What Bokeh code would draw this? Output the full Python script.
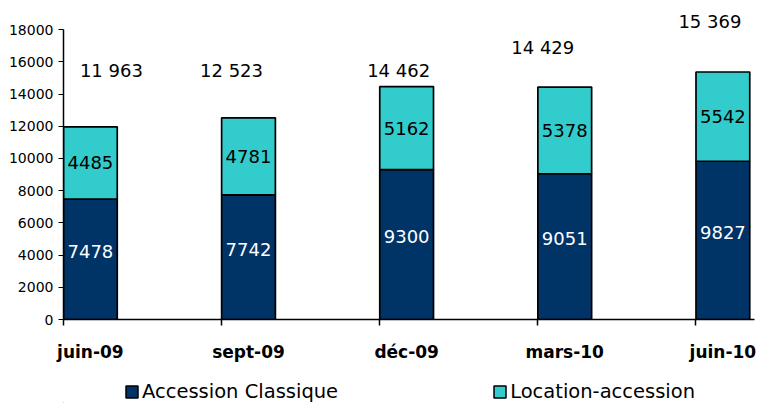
from bokeh.plotting import figure
from bokeh.layouts import column
from bokeh.models import (ColumnDataSource, FixedTicker, LinearAxis, Range1d,
                          Legend, LegendItem)
from bokeh.core.properties import value
from bokeh.embed import file_html
from bokeh.resources import INLINE

# --- data ---------------------------------------------------------------
periods = ["juin-09", "sept-09", "déc-09", "mars-10", "juin-10"]
accession_classique = [7478, 7742, 9300, 9051, 9827]
location_accession = [4485, 4781, 5162, 5378, 5542]
y_ticks = [0, 2000, 4000, 6000, 8000, 10000, 12000, 14000, 16000, 18000]

# placement of the total labels above each column (pixel shift, data height)
total_label_dx = [21, -17, -8, -22, -13]
total_label_y = [15456, 15456, 15456, 16884, 18498]

DARK = "#003366"
CYAN = "#33CCCC"
FONT = "DejaVu Sans"
BAR_W = 0.34
SERIES = ["Accession Classique", "Location-accession"]

xs = list(range(len(periods)))
totals = [a + b for a, b in zip(accession_classique, location_accession)]

src = ColumnDataSource(dict(
    x=xs,
    classique=accession_classique,
    location=location_accession,
    top=totals,
    mid_classique=[a / 2 for a in accession_classique],
    mid_location=[a + b / 2 for a, b in zip(accession_classique, location_accession)],
    lbl_classique=[str(v) for v in accession_classique],
    lbl_location=[str(v) for v in location_accession],
    lbl_total=[f"{t:,}".replace(",", " ") for t in totals],
    total_y=total_label_y,
    total_dx=total_label_dx,
))

p = figure(width=757, height=372, output_backend="svg", toolbar_location=None,
           x_range=Range1d(-BAR_W / 2, 4.2), y_range=Range1d(0, 19000),
           x_axis_location=None, y_axis_location=None,
           min_border_left=63, min_border_right=3,
           min_border_top=13, min_border_bottom=53)
p.outline_line_color = None
p.xgrid.visible = False
p.ygrid.visible = False
p.background_fill_color = "white"
p.border_fill_color = "white"

# --- stacked columns ----------------------------------------------------
p.vbar(x="x", width=BAR_W, bottom=0, top="classique", source=src,
       fill_color=DARK, line_color="black", line_width=1.7)
p.vbar(x="x", width=BAR_W, bottom="classique", top="top", source=src,
       fill_color=CYAN, line_color="black", line_width=1.7)

# --- value labels -------------------------------------------------------
p.text(x="x", y="mid_classique", text="lbl_classique", source=src,
       text_color="white", text_font=value(FONT), text_font_size="18px",
       text_align="center", text_baseline="middle", y_offset=-8)
p.text(x="x", y="mid_location", text="lbl_location", source=src,
       text_color="black", text_font=value(FONT), text_font_size="18px",
       text_align="center", text_baseline="middle")
p.text(x="x", y="total_y", text="lbl_total", source=src, x_offset="total_dx",
       text_color="black", text_font=value(FONT), text_font_size="18px",
       text_align="center", text_baseline="middle")

# --- axes ---------------------------------------------------------------
yaxis = LinearAxis(ticker=FixedTicker(ticks=y_ticks), bounds=(0, 18000))
yaxis.axis_line_width = 1.5
yaxis.axis_line_color = "black"
yaxis.major_tick_out = 5
yaxis.major_tick_in = 0
yaxis.major_tick_line_color = "black"
yaxis.major_label_standoff = 5
yaxis.major_label_text_font = FONT
yaxis.major_label_text_font_size = "14px"
yaxis.major_label_text_color = "black"
yaxis.minor_tick_line_color = None
p.add_layout(yaxis, "left")

# category names sit under the columns; tick marks sit on the boundaries
xaxis = LinearAxis(ticker=FixedTicker(ticks=xs,
                                      minor_ticks=[i - BAR_W / 2 for i in xs]))
xaxis.major_label_overrides = {i: name for i, name in zip(xs, periods)}
xaxis.axis_line_width = 1.5
xaxis.axis_line_color = "black"
xaxis.major_tick_line_color = None
xaxis.major_tick_out = 0
xaxis.major_tick_in = 0
xaxis.minor_tick_line_color = "black"
xaxis.minor_tick_line_width = 1.5
xaxis.minor_tick_out = 6
xaxis.minor_tick_in = 0
xaxis.major_label_standoff = 16
xaxis.major_label_text_font = FONT
xaxis.major_label_text_font_style = "bold"
xaxis.major_label_text_font_size = "17px"
xaxis.major_label_text_color = "black"
p.add_layout(xaxis, "below")

# --- legend strip under the chart ---------------------------------------
key = figure(width=757, height=31, output_backend="svg", toolbar_location=None,
             x_range=Range1d(0, 1), y_range=Range1d(0, 1),
             x_axis_location=None, y_axis_location=None,
             min_border_left=63, min_border_right=3,
             min_border_top=0, min_border_bottom=0)
key.outline_line_color = None
key.xgrid.visible = False
key.ygrid.visible = False
key.border_fill_color = "white"
# swatch renderers kept well outside the visible ranges; only their keys show
k1 = key.vbar(x=[-50], bottom=[-60], top=[-50], width=0.1,
              fill_color=DARK, line_color="black", line_width=1.5)
k2 = key.vbar(x=[-50], bottom=[-60], top=[-50], width=0.1,
              fill_color=CYAN, line_color="black", line_width=1.5)
legend = Legend(
    items=[LegendItem(label=SERIES[0], renderers=[k1]),
           LegendItem(label=SERIES[1], renderers=[k2])],
    orientation="horizontal", location=(61, 0),
    border_line_color=None, background_fill_alpha=0,
    padding=0, margin=0, spacing=154,
    glyph_width=15, glyph_height=15, label_standoff=3,
    label_text_font=FONT, label_text_font_size="19.5px", label_text_color="black",
)
key.add_layout(legend, "center")

layout = column(p, key, spacing=0)
open("out.html", "w").write(file_html(layout, INLINE))
